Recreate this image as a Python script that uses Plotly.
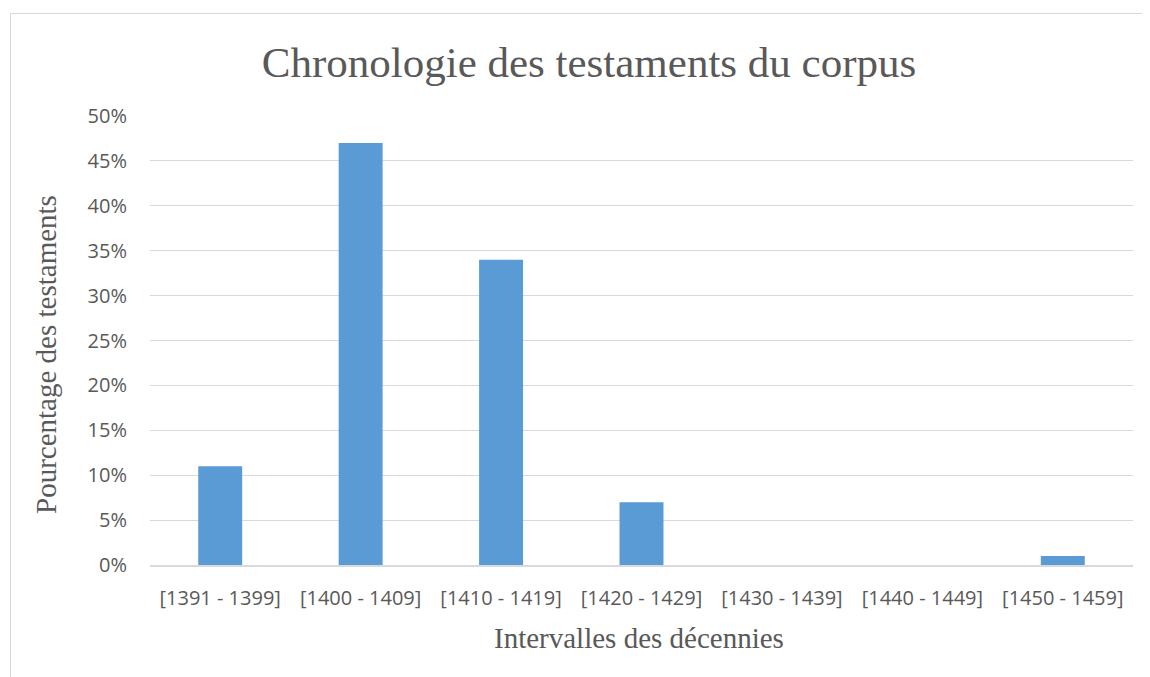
import plotly.graph_objects as go

categories = ["[1391 - 1399]", "[1400 - 1409]", "[1410 - 1419]", "[1420 - 1429]",
              "[1430 - 1439]", "[1440 - 1449]", "[1450 - 1459]"]
values = [0.11, 0.47, 0.34, 0.07, 0.0, 0.0, 0.01]
y_ticks = [0, 0.05, 0.10, 0.15, 0.20, 0.25, 0.30, 0.35, 0.40, 0.45, 0.50]
y_tick_labels = ["0%", "5%", "10%", "15%", "20%", "25%", "30%", "35%", "40%", "45%", "50%"]

# page body has an 8px margin; coordinates below are in screenshot pixels
O = 8
W, H = 1150, 677
PL, PR, PT, PB = 150, 1133, 116, 565  # plot box in screenshot pixels
L, T = PL - O, PT - O
R = W - (PR - O)
B = H - (PB - O)
pw, ph = PR - PL, PB - PT

def px(x):
    return (x - PL) / pw

def py(y):
    return (PB - y) / ph

grey = "#595959"
serif = "Liberation Serif, Times New Roman, serif"
sans = "Open Sans, Calibri, sans-serif"

fig = go.Figure(go.Bar(
    x=categories, y=values,
    marker=dict(color="#5B9BD5", line=dict(width=0)),
))

fig.update_layout(
    width=W, height=H,
    margin=dict(l=L, r=R, t=T, b=B, autoexpand=False),
    paper_bgcolor="white", plot_bgcolor="white",
    bargap=0.687,
    showlegend=False,
    title=dict(text="Chronologie des testaments du corpus", x=(589 - O) / W, xanchor="center",
               y=1 - (62 - O) / H, yanchor="middle", yref="container",
               font=dict(family=serif, size=43, color=grey)),
    xaxis=dict(showgrid=False, showline=True, linecolor="#D9D9D9", linewidth=1.5,
               ticks="", tickfont=dict(family=sans, size=20, color=grey),
               ticklabelstandoff=14),
    yaxis=dict(range=[0, 0.5], tickvals=y_ticks, ticktext=y_tick_labels,
               showgrid=True, gridcolor="#D9D9D9", gridwidth=1.3, zeroline=False,
               showline=False, ticks="", tickfont=dict(family=sans, size=20, color=grey),
               ticklabelstandoff=22),
    annotations=[
        dict(text="Intervalles des décennies", xref="paper", yref="paper",
             x=px(639), y=py(638), xanchor="center", yanchor="middle", showarrow=False,
             font=dict(family=serif, size=29, color=grey)),
        dict(text="Pourcentage des testaments", xref="paper", yref="paper",
             x=px(46), y=py(355), xanchor="center", yanchor="middle", showarrow=False,
             textangle=-90, font=dict(family=serif, size=29, color=grey)),
    ],
    shapes=[
        dict(type="rect", xref="paper", yref="paper",
             x0=px(10.5), x1=px(1165), y0=py(690), y1=py(13.5),
             line=dict(color="#D9D9D9", width=1), layer="below"),
    ],
)

fig.write_html("out.html")
